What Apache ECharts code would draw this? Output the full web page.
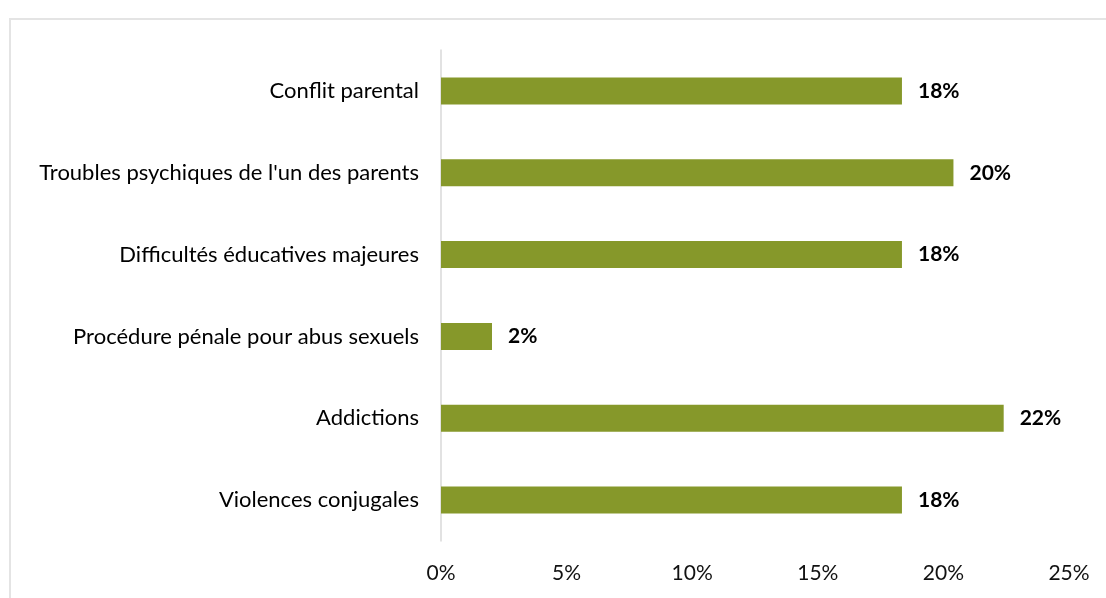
<!DOCTYPE html>
<html>
<head>
  <meta charset="utf-8">
  <script src="https://cdn.jsdelivr.net/npm/echarts@6/dist/echarts.min.js"></script>
</head>
<body style="margin:0;background:#fff;">
<div id="main" style="width:1106px;height:598px;"></div>
<script type="text/javascript">
var categories = [
  'Conflit parental',
  'Troubles psychiques de l\'un des parents',
  'Difficultés éducatives majeures',
  'Procédure pénale pour abus sexuels',
  'Addictions',
  'Violences conjugales'
];
var values = [18.35, 20.4, 18.35, 2.03, 22.4, 18.35];
var xTicks = [0, 5, 10, 15, 20, 25];

var chart = echarts.init(document.getElementById('main'));
chart.setOption({
  animation: false,
  textStyle: { fontFamily: 'Lato' },
  graphic: [{
    type: 'rect',
    shape: { x: 10, y: 19, width: 1120, height: 600 },
    style: { fill: 'none', stroke: '#e4e4e4', lineWidth: 2 }
  }],
  grid: { left: 441, right: 37, top: 50, bottom: 57 },
  xAxis: {
    type: 'value',
    min: xTicks[0],
    max: xTicks[xTicks.length - 1],
    interval: 5,
    axisLine: { show: false },
    axisTick: { show: false },
    splitLine: { show: false },
    axisLabel: {
      margin: 22,
      fontSize: 21,
      color: '#111',
      formatter: '{value}%'
    }
  },
  yAxis: {
    type: 'category',
    inverse: true,
    data: categories,
    axisLine: { lineStyle: { color: '#d9d9d9', width: 1.5 } },
    axisTick: { show: false },
    axisLabel: { margin: 22, fontSize: 22, color: '#000' }
  },
  series: [{
    type: 'bar',
    data: values,
    barWidth: 27,
    itemStyle: { color: '#86982a' },
    label: {
      show: true,
      position: 'right',
      distance: 16,
      fontSize: 21,
      fontWeight: 'bold',
      color: '#000',
      formatter: function (p) { return Math.round(p.value) + '%'; }
    }
  }]
});
</script>
</body>
</html>
